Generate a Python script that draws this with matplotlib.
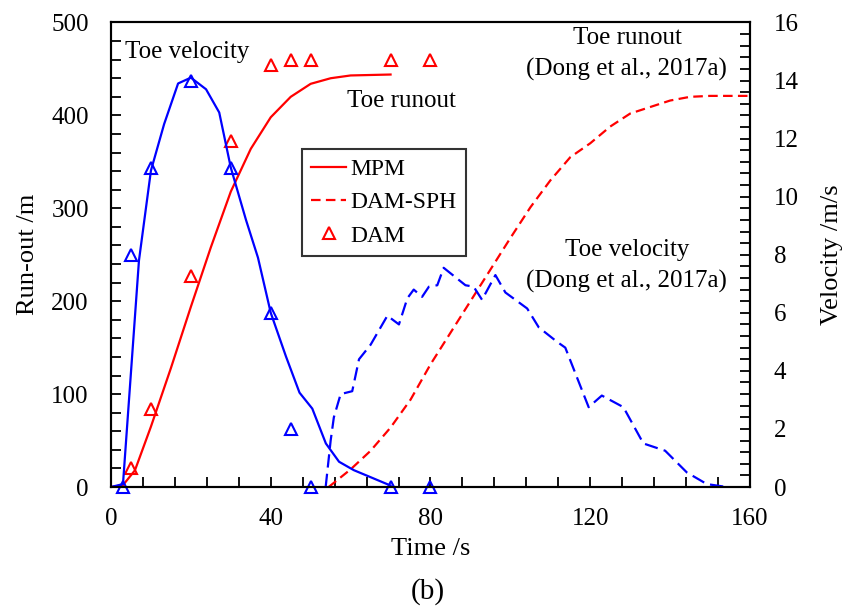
import matplotlib
matplotlib.use("Agg")
import matplotlib.pyplot as plt
from matplotlib.ticker import MultipleLocator

plt.rcParams['font.family'] = ['Liberation Serif', 'DejaVu Serif']

# MPM toe runout (m) vs time (s)
mpm_run_t = [0, 3, 6, 10, 15, 20, 25, 30, 35, 40, 45, 50, 55, 60, 70]
mpm_run = [0, 2, 18, 65, 128, 194, 258, 318, 364, 398, 420, 434, 440, 443, 444]

# MPM toe velocity (m/s) vs time (s)
mpm_vel_t = [0, 3, 7, 10, 13.3, 16.8, 20, 23.8, 27.1, 30, 33.8, 36.8, 40, 43.8,
             47.2, 50.4, 53.8, 57.1, 60.8, 70]
mpm_vel = [0, 0.1, 7.8, 10.9, 12.5, 13.9, 14.1, 13.7, 12.9, 11.0, 9.2, 7.9, 6.0,
           4.5, 3.25, 2.7, 1.5, 0.87, 0.58, 0.05]

# DAM-SPH toe runout (m) vs time (s)
sph_run_t = [54.5, 60, 65, 70, 75, 80, 85, 90, 95, 100, 105, 110, 115, 120, 125,
             130, 135, 140, 145, 150, 160]
sph_run = [0, 19, 39, 64, 94, 132, 166, 200, 234, 268, 301, 330, 355, 370, 388,
           402, 409, 416, 420, 421, 421]

# DAM-SPH toe velocity (m/s) vs time (s)
sph_vel_t = [53.75, 55, 55.8, 57.5, 60.4, 62.1, 65, 69.2, 72.1, 74.2, 75.8, 77.9,
             79.6, 81.7, 83.3, 88.75, 90.8, 92.9, 96.25, 98.75, 104.2, 107.1,
             111.7, 113.75, 119.6, 122.9, 128.3, 133.3, 138.75, 144.2, 149.2, 154.2]
sph_vel = [0, 1.6, 2.4, 3.2, 3.3, 4.4, 4.9, 5.9, 5.6, 6.5, 6.8, 6.55, 6.9, 6.95,
           7.55, 6.95, 6.9, 6.45, 7.3, 6.7, 6.15, 5.5, 5.0, 4.8, 2.75, 3.15, 2.75,
           1.5, 1.25, 0.5, 0.1, 0.0]

# DAM results (markers)
dam_run_t = [5, 10, 20, 30, 40, 45, 50, 70, 80]
dam_run = [20, 84, 227, 372, 454, 460, 460, 460, 460]
dam_vel_t = [3, 5, 10, 20, 30, 40, 45, 50, 70, 80]
dam_vel = [0, 8, 11, 14, 11, 6, 2, 0, 0, 0]

fig = plt.figure(figsize=(8.45, 6.11), dpi=100)
ax = fig.add_axes([111 / 845, 1 - 487 / 611, 639 / 845, 464.5 / 611])
ax2 = ax.twinx()

FS_TICK = 18
FS_NOTE = 18
FS_LABEL = 19
FS_LEG = 17
lw = 1.6
red_dash = (0, (4.3, 2.4))
blue_dash = (0, (6.0, 2.8))

l_mpm, = ax.plot(mpm_run_t, mpm_run, color='red', lw=lw)
l_sph, = ax.plot(sph_run_t, sph_run, color='red', lw=lw, linestyle=red_dash)
l_dam, = ax.plot(dam_run_t, dam_run, linestyle='none', marker='^', ms=9,
                 mfc='none', mec='red', mew=1.5, clip_on=False)

ax2.plot(mpm_vel_t, mpm_vel, color='blue', lw=lw)
ax2.plot(sph_vel_t, sph_vel, color='blue', lw=lw, linestyle=blue_dash)
ax2.plot(dam_vel_t, dam_vel, linestyle='none', marker='^', ms=9,
         mfc='none', mec='blue', mew=1.5, clip_on=False)

ax.set_xlim(0, 160)
ax.set_ylim(0, 500)
ax2.set_ylim(0, 16)

ax.xaxis.set_major_locator(MultipleLocator(40))
ax.xaxis.set_minor_locator(MultipleLocator(8))
ax.yaxis.set_major_locator(MultipleLocator(100))
ax.yaxis.set_minor_locator(MultipleLocator(20))
ax2.yaxis.set_major_locator(MultipleLocator(2))
ax2.yaxis.set_minor_locator(MultipleLocator(0.4))

for a in (ax, ax2):
    for s in a.spines.values():
        s.set_linewidth(1.5)
ax.tick_params(axis='both', which='both', direction='in', length=7, width=1.3,
               labelsize=FS_TICK, top=False, right=False)
ax.tick_params(axis='x', pad=15)
ax.tick_params(axis='y', pad=16)
ax2.tick_params(axis='y', which='both', direction='in', length=7, width=1.3,
                labelsize=FS_TICK, pad=17)

ax.set_xlabel('Time /s', fontsize=FS_LABEL, labelpad=6)
ax.set_ylabel('Run-out /m', fontsize=FS_LABEL, labelpad=9)
ax2.set_ylabel('Velocity /m/s', fontsize=FS_LABEL, labelpad=16)

# curve annotations
ax.text(3.6, 468, 'Toe velocity', fontsize=FS_NOTE, ha='left', va='center')
ax.text(59, 416, 'Toe runout', fontsize=FS_NOTE, ha='left', va='center')
ax.text(129.3, 483, 'Toe runout', fontsize=FS_NOTE, ha='center', va='center')
ax.text(129.0, 449, '(Dong et al., 2017a)', fontsize=FS_NOTE, ha='center', va='center')
ax.text(129.2, 255, 'Toe velocity', fontsize=FS_NOTE, ha='center', va='center')
ax.text(129.0, 221, '(Dong et al., 2017a)', fontsize=FS_NOTE, ha='center', va='center')

leg = ax.legend([l_mpm, l_sph, l_dam], ['MPM', 'DAM-SPH', 'DAM'],
                loc='upper left', bbox_to_anchor=(302 / 845, 1 - 149 / 611),
                bbox_transform=fig.transFigure, fontsize=FS_LEG, frameon=True,
                fancybox=False, edgecolor='black', handlelength=1.45,
                handletextpad=0.2, labelspacing=0.5, borderpad=0.4,
                borderaxespad=0)
leg.get_frame().set_linewidth(1.5)

fig.text(428 / 845, 1 - 592 / 611, '(b)', fontsize=21, ha='center', va='center')

fig.savefig('out.png', dpi=100)
